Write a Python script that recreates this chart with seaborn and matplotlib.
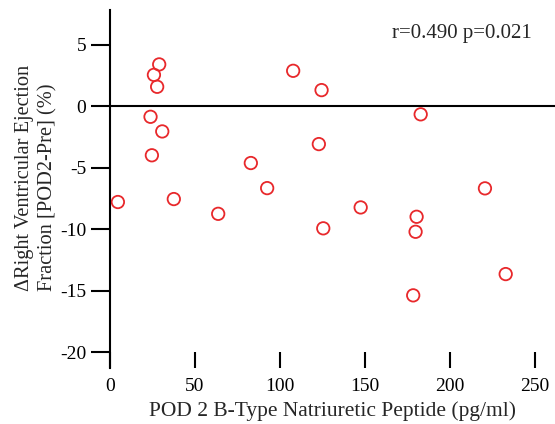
import pandas as pd
import matplotlib
matplotlib.use("Agg")
import matplotlib.pyplot as plt
import seaborn as sns

# POD 2 BNP (pg/ml) vs change in RV ejection fraction (%)
bnp = [4.7, 29.0, 25.9, 27.8, 23.9, 30.8, 24.7, 37.6, 63.7, 82.9, 92.5,
       107.8, 124.5, 122.9, 125.5, 147.5, 182.8, 180.4, 179.8, 178.4, 220.6, 232.8]
d_rvef = [-7.8, 3.39, 2.54, 1.57, -0.87, -2.06, -4.0, -7.56, -8.76, -4.63, -6.67,
          2.87, 1.30, -3.09, -9.94, -8.24, -0.67, -9.0, -10.22, -15.39, -6.69, -13.66]
x_ticks = [0, 50, 100, 150, 200, 250]
y_ticks = [5, 0, -5, -10, -15, -20]
stats_text = "r=0.490 p=0.021"

df = pd.DataFrame({"bnp": bnp, "d_rvef": d_rvef})

sns.set_style("ticks")
plt.rcParams['font.family'] = ['Liberation Serif', 'DejaVu Serif']
plt.rcParams['axes.unicode_minus'] = False

fig = plt.figure(figsize=(5.55, 4.24), dpi=100)
ax = fig.add_axes([0.198, 0.132, 0.802, 0.844])

sns.scatterplot(data=df, x="bnp", y="d_rvef", ax=ax, s=80,
                facecolor="none", edgecolor="#e8282b", linewidth=1.3, marker="o")

ax.axhline(0, color="black", lw=1.5, zorder=0)

ax.set_xlim(0, 261.8)
ax.set_ylim(-21.3, 7.8)
ax.set_xticks(x_ticks)
ax.set_yticks(y_ticks)

for side in ["top", "right", "bottom"]:
    ax.spines[side].set_visible(False)
ax.spines["left"].set_linewidth(1.5)
ax.spines["left"].set_color("black")

ax.tick_params(axis="y", direction="out", length=14, width=1.5, labelsize=14, pad=3, colors="black")
ax.tick_params(axis="x", direction="in", length=11.5, width=1.5, labelsize=14, pad=7, colors="black")

ax.set_xlabel("POD 2 B-Type Natriuretic Peptide (pg/ml)", fontsize=15.5, labelpad=5)
ax.set_ylabel("")
fig.text(36 / 555, 1 - 291 / 424, "\u0394Right Ventricular Ejection\nFraction [POD2-Pre] (%)",
         rotation=90, ha="center", va="bottom", multialignment="left",
         fontsize=14.7, linespacing=1.3)

ax.text(248, 5.9, stats_text, ha="right", va="center", fontsize=15)

fig.savefig("out.png", dpi=100)
